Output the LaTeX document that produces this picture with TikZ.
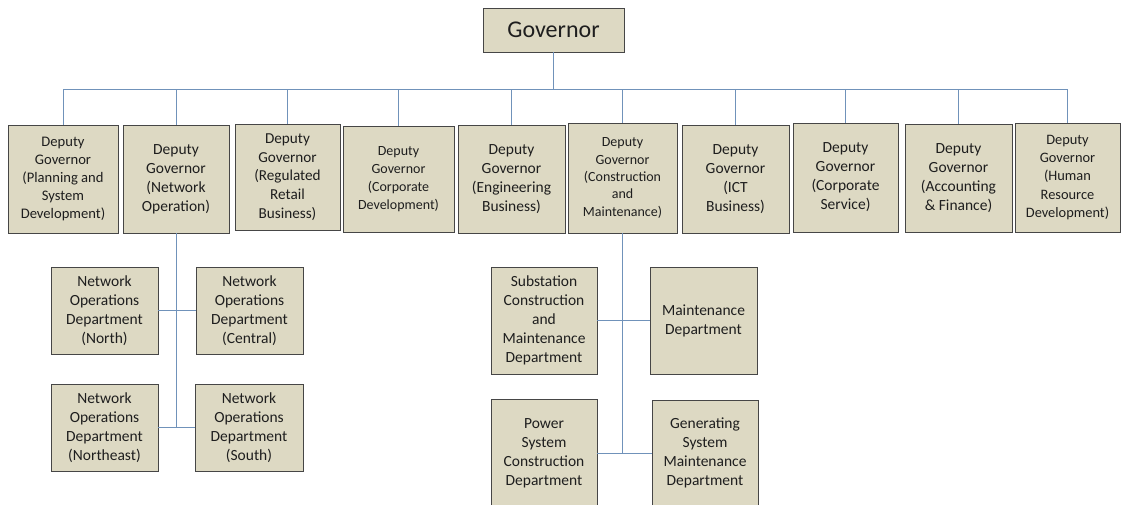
\documentclass[tikz,border=0pt]{standalone}
\usepackage{fontspec}
\setmainfont{Carlito}
\definecolor{boxfill}{RGB}{221,217,195}
\definecolor{boxline}{RGB}{70,70,70}
\definecolor{linkblue}{RGB}{112,146,186}
\definecolor{ink}{RGB}{30,30,30}
\begin{document}
\begin{tikzpicture}[x=1pt,y=-1pt,
  orgbox/.style={draw=boxline,line width=0.9pt,fill=boxfill,text=ink,
    inner sep=0pt,align=center},
  sz/.style={font=\fontsize{#1}{#1*1.23}\selectfont},
  link/.style={draw=linkblue,line width=1pt}]
\clip (0,0) rectangle (1122,505);

% top level
\node[orgbox,minimum width=141,minimum height=44,font=\fontsize{24}{28}\selectfont] (gov) at (553.5,30) {Governor};

% deputy governors
\node[orgbox,minimum width=110,minimum height=108,font=\fontsize{14.6}{18}\selectfont] (d1) at (63,179) {Deputy\\Governor\\(Planning and\\System\\Development)};
\node[orgbox,minimum width=106,minimum height=108,font=\fontsize{15.5}{19}\selectfont] (d2) at (176,179) {Deputy\\Governor\\(Network\\Operation)};
\node[orgbox,minimum width=105,minimum height=106,font=\fontsize{15.2}{18.7}\selectfont] (d3) at (287.5,177) {Deputy\\Governor\\(Regulated\\Retail\\Business)};
\node[orgbox,minimum width=111,minimum height=106,font=\fontsize{14}{18}\selectfont] (d4) at (398.5,179) {Deputy\\Governor\\(Corporate\\Development)};
\node[orgbox,minimum width=107,minimum height=108,font=\fontsize{15.5}{19}\selectfont] (d5) at (511.5,179) {Deputy\\Governor\\(Engineering\\Business)};
\node[orgbox,minimum width=109,minimum height=110,font=\fontsize{14}{17.3}\selectfont] (d6) at (622.5,178) {Deputy\\Governor\\(Construction\\and\\Maintenance)};
\node[orgbox,minimum width=107,minimum height=108,font=\fontsize{15.5}{19}\selectfont] (d7) at (735.5,179) {Deputy\\Governor\\(ICT\\Business)};
\node[orgbox,minimum width=105,minimum height=109,font=\fontsize{15.5}{19}\selectfont] (d8) at (845.5,177.5) {Deputy\\Governor\\(Corporate\\Service)};
\node[orgbox,minimum width=107,minimum height=108,font=\fontsize{15.5}{19}\selectfont] (d9) at (958.5,178) {Deputy\\Governor\\(Accounting\\\& Finance)};
\node[orgbox,minimum width=105,minimum height=109,font=\fontsize{14.4}{18.3}\selectfont] (d10) at (1067.5,177.5) {Deputy\\Governor\\(Human\\Resource\\Development)};

% network operation departments
\node[orgbox,minimum width=107,minimum height=87,font=\fontsize{15.5}{19}\selectfont] (north) at (104.5,310.5) {Network\\Operations\\Department\\(North)};
\node[orgbox,minimum width=107,minimum height=87,font=\fontsize{15.5}{19}\selectfont] (central) at (249.5,310.5) {Network\\Operations\\Department\\(Central)};
\node[orgbox,minimum width=107,minimum height=87,font=\fontsize{15.5}{19}\selectfont] (northeast) at (104.5,427.5) {Network\\Operations\\Department\\(Northeast)};
\node[orgbox,minimum width=108,minimum height=87,font=\fontsize{15.5}{19}\selectfont] (south) at (249,427.5) {Network\\Operations\\Department\\(South)};

% construction and maintenance departments
\node[orgbox,minimum width=106,minimum height=107,font=\fontsize{15.5}{19}\selectfont] (subst) at (544,320.5) {Substation\\Construction\\and\\Maintenance\\Department};
\node[orgbox,minimum width=107,minimum height=107,font=\fontsize{15.5}{19}\selectfont] (maint) at (703.5,320.5) {Maintenance\\Department};
\node[orgbox,minimum width=106,minimum height=108,font=\fontsize{15.5}{19}\selectfont] (power) at (544,453) {Power\\System\\Construction\\Department};
\node[orgbox,minimum width=106,minimum height=106,font=\fontsize{15.5}{19}\selectfont] (gensys) at (705,453) {Generating\\System\\Maintenance\\Department};

% bus line under the governor
\coordinate (bus) at (0,90);
\draw[link] (gov.south) -- (gov.south |- bus);
\draw[link] (d1.north |- bus) -- (d10.north |- bus);
\foreach \i in {1,...,10}
  \draw[link] (d\i.north |- bus) -- (d\i.north);

% network operation branch
\draw[link] (d2.south) -- (d2.south |- northeast.east);
\draw[link] (north.east) -- (central.west);
\draw[link] (northeast.east) -- (south.west);

% construction and maintenance branch
\draw[link] (d6.south) -- (d6.south |- power.east);
\draw[link] (subst.east) -- (maint.west);
\draw[link] (power.east) -- (gensys.west);
\end{tikzpicture}
\end{document}
